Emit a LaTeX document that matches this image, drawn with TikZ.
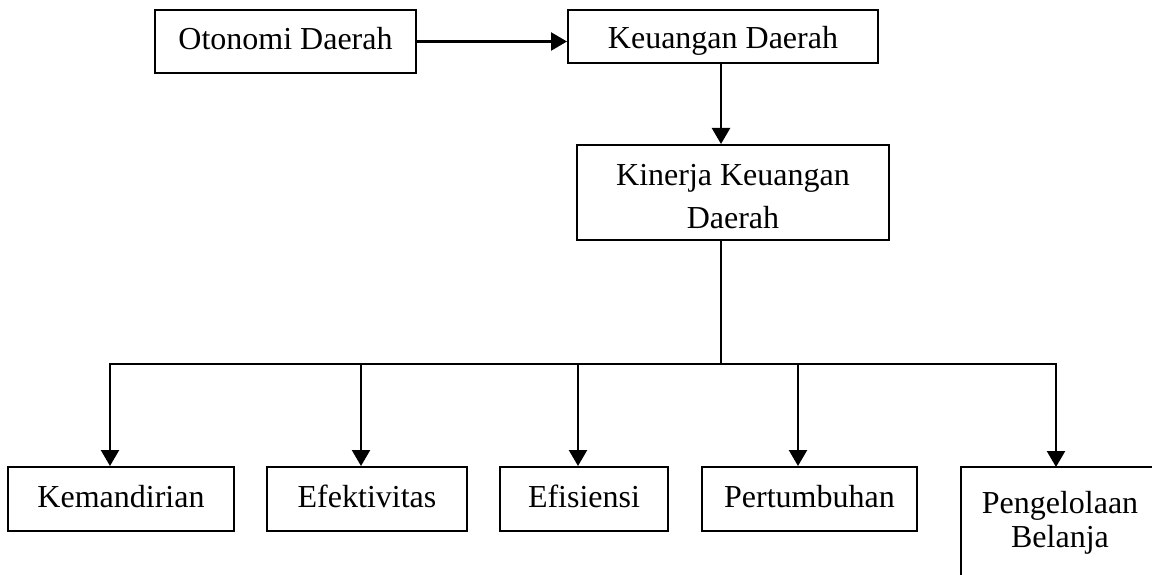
\documentclass[tikz,border=0pt]{standalone}
\usepackage{fontspec}
\setmainfont{Liberation Serif}
\usetikzlibrary{arrows.meta}
\begin{document}
\begin{tikzpicture}[x=1pt,y=1pt,
  box/.style={draw=black, line width=2pt, inner sep=0pt, font=\fontsize{32}{43}\selectfont, align=center, text height=17pt, text depth=0pt},
  txt/.style={inner sep=0pt, align=center, anchor=base},
  conn/.style={line width=2.4pt},
  arr/.style={conn, -{Triangle[width=18pt,length=16pt]}}]
\useasboundingbox (0,0) rectangle (1152,-575);
% top row
\node[box, minimum width=261pt, minimum height=63pt] (oto) at (285.5,-41.5) {Otonomi Daerah};
\node[box, minimum width=310pt, minimum height=53pt, text height=25pt] (keu) at (723,-36.5) {Keuangan Daerah};
\node[box, minimum width=312pt, minimum height=95pt] (kin) at (733,-192.5) {};
\node[txt, font=\fontsize{32}{43}\selectfont] (kint) at (733,-228) {Kinerja Keuangan\\Daerah};
% bottom row
\node[box, minimum width=226pt, minimum height=64pt] (kem) at (121,-499) {Kemandirian};
\node[box, minimum width=200pt, minimum height=64pt] (efk) at (367,-499) {Efektivitas};
\node[box, minimum width=168pt, minimum height=64pt] (efs) at (584,-499) {Efisiensi};
\node[box, minimum width=215pt, minimum height=64pt] (per) at (809.5,-499) {Pertumbuhan};
\node[txt, font=\fontsize{32}{34}\selectfont] (peng) at (1060,-547) {Pengelolaan\\Belanja};
\coordinate (pengtl) at (961,-467);
\coordinate (pengtr) at (1152,-467);
\coordinate (pengbl) at (961,-575);
\draw[line width=2pt] (pengtr) -- (pengtl) -- (pengbl);
% connectors
\draw[arr] (oto.east) -- (oto.east -| keu.west);
\coordinate (kdrop) at (721,-63);
\draw[arr] (kdrop) -- (kdrop |- kin.north);
\coordinate (kinb) at (721,-240);
\coordinate (bus) at (721,-364);
\coordinate (b1) at (110,-364);
\coordinate (b2) at (361,-364);
\coordinate (b3) at (578,-364);
\coordinate (b4) at (798,-364);
\coordinate (b5) at (1056,-364);
\draw[conn] (kinb) -- (bus);
\draw[conn, line cap=rect] (b1) -- (b5);
\draw[arr] (b1) -- (b1 |- kem.north);
\draw[arr] (b2) -- (b2 |- efk.north);
\draw[arr] (b3) -- (b3 |- efs.north);
\draw[arr] (b4) -- (b4 |- per.north);
\draw[arr] (b5) -- (b5 |- pengtl);
\end{tikzpicture}
\end{document}
